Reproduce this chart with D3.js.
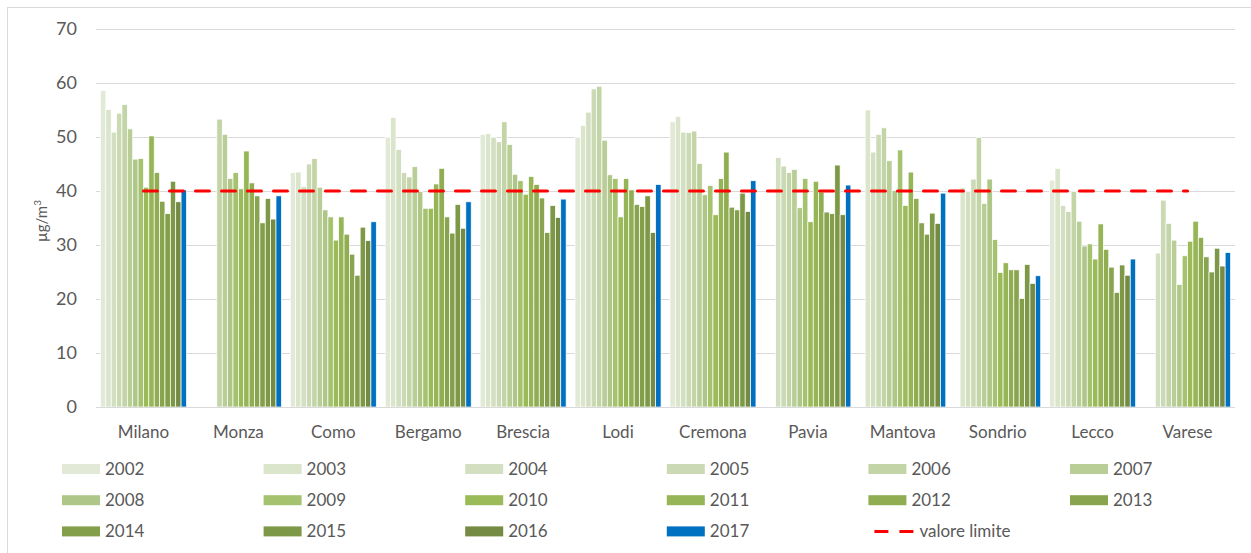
<!DOCTYPE html>
<html>
<head>
<meta charset="utf-8">
<script src="https://cdn.jsdelivr.net/npm/d3@7"></script>
<style>
  html, body { margin: 0; padding: 0; background: #fff; }
  svg { display: block; font-family: Lato, "Open Sans", sans-serif; }
</style>
</head>
<body>
<svg id="chart" width="1251" height="553"></svg>
<script>
// ---- data ----
const categories = ["Milano","Monza","Como","Bergamo","Brescia","Lodi","Cremona","Pavia","Mantova","Sondrio","Lecco","Varese"];
const years = ["2002","2003","2004","2005","2006","2007","2008","2009","2010","2011","2012","2013","2014","2015","2016","2017"];
const yTicks = [0,10,20,30,40,50,60,70];
const limitValue = 40;
const limitLabel = "valore limite";

// values per city, one per year 2002..2017 (null = no data)
const milano  = [58.6,55.1,50.9,54.4,56.0,51.5,45.9,46.0,40.7,50.2,43.4,38.1,35.8,41.8,38.0,40.2];
const monza   = [null,null,null,null,53.3,50.5,42.3,43.4,40.4,47.4,41.5,39.1,34.1,38.6,34.8,39.1];
const como    = [43.4,43.5,40.8,45.0,46.0,40.7,36.5,35.2,30.9,35.2,32.0,28.3,24.4,33.3,30.8,34.3];
const bergamo = [49.9,53.6,47.7,43.4,42.6,44.5,39.9,36.8,36.8,41.3,44.2,35.2,32.2,37.5,33.1,38.0];
const brescia = [50.5,50.6,49.9,49.1,52.8,48.6,43.1,41.9,39.4,42.7,41.2,38.7,32.3,37.3,35.1,38.5];
const lodi    = [49.9,52.1,54.6,58.9,59.4,49.4,43.0,42.3,35.2,42.3,40.2,37.5,37.1,39.1,32.3,41.2];
const cremona = [52.8,53.8,50.9,50.8,51.1,45.1,39.3,41.0,35.6,42.3,47.2,37.0,36.5,39.6,36.2,41.9];
const pavia   = [null,null,46.2,44.6,43.4,44.0,36.9,42.3,34.3,41.8,39.8,36.1,35.8,44.8,35.6,41.1];
const mantova = [null,55.0,47.2,50.5,51.7,45.6,40.1,47.6,37.3,43.5,38.6,34.1,32.0,35.9,34.0,39.6];
const sondrio = [null,40.6,39.9,42.2,49.9,37.7,42.2,31.0,24.9,26.7,25.4,25.4,20.1,26.4,22.9,24.3];
const lecco   = [42.0,44.2,37.3,36.2,39.9,34.4,29.8,30.2,27.4,33.9,29.2,25.9,21.2,26.3,24.4,27.4];
const varese  = [null,null,28.5,38.3,34.0,30.9,22.7,28.0,30.7,34.4,31.4,27.8,25.0,29.4,26.1,28.6];

const cityValues = [milano,monza,como,bergamo,brescia,lodi,cremona,pavia,mantova,sondrio,lecco,varese];

const yearColors = ["#e2e9d7","#dae5cb","#d2dfc0","#cbdab5","#c3d4a7","#b9cd97","#aec788","#a5c26f",
                    "#9bbb59","#96b556","#90ad52","#89a44e","#839f4a","#7d9846","#758b43","#0070c0"];

// ---- layout ----
const svg = d3.select("#chart");
const plot = {left: 96, right: 1235, top: 29, bottom: 407};
const textColor = "#595959";

// chart frame
svg.append("rect").attr("x", 7.5).attr("y", 7.5).attr("width", 1260).attr("height", 560)
  .attr("fill", "none").attr("stroke", "#d9d9d9").attr("stroke-width", 1);

const y = d3.scaleLinear().domain([0, 70]).range([plot.bottom, plot.top]);
const x0 = d3.scaleBand().domain(categories).range([plot.left, plot.right]).padding(0);
const x1 = d3.scaleBand().domain(years).range([0, x0.bandwidth()]).paddingInner(0).paddingOuter(0.83);

// gridlines
svg.append("g").selectAll("line").data(yTicks.filter(t => t > 0)).join("line")
  .attr("x1", plot.left).attr("x2", plot.right)
  .attr("y1", d => Math.round(y(d)) + 0.5).attr("y2", d => Math.round(y(d)) + 0.5)
  .attr("stroke", "#d9d9d9").attr("stroke-width", 1);

// y axis labels
const yAxis = d3.axisLeft(y).tickValues(yTicks).tickSize(0).tickPadding(0);
const gy = svg.append("g").attr("transform", `translate(${plot.left - 19},0)`).call(yAxis);
gy.select(".domain").remove();
gy.selectAll("text").attr("fill", textColor).style("font-size", "18px").style("font-family", "Lato, sans-serif");

// y axis title
const yt = svg.append("text").attr("transform", "translate(47,221) rotate(-90)")
  .attr("text-anchor", "middle").attr("fill", textColor).style("font-size", "15px");
yt.append("tspan").text("µg/m");
yt.append("tspan").attr("dy", -6).style("font-size", "10px").text("3");

// bars
const groups = svg.append("g").selectAll("g").data(categories).join("g")
  .attr("transform", d => `translate(${x0(d)},0)`);
groups.selectAll("rect")
  .data((c, i) => years.map((yr, j) => ({year: yr, j, value: cityValues[i][j]})).filter(d => d.value != null))
  .join("rect")
  .attr("x", d => x1(d.year))
  .attr("width", x1.bandwidth())
  .attr("y", d => y(d.value))
  .attr("height", d => y(0) - y(d.value))
  .attr("fill", d => yearColors[d.j])
  .attr("stroke", "#ffffff").attr("stroke-width", 0.7);

// baseline
svg.append("line").attr("x1", plot.left).attr("x2", plot.right)
  .attr("y1", plot.bottom + 0.5).attr("y2", plot.bottom + 0.5)
  .attr("stroke", "#d9d9d9").attr("stroke-width", 1);

// category axis
const xAxis = d3.axisBottom(x0).tickSize(0).tickPadding(0);
const gx = svg.append("g").attr("transform", `translate(0,${plot.bottom + 19})`).call(xAxis);
gx.select(".domain").remove();
gx.selectAll("text").attr("fill", textColor).style("font-size", "17px").style("font-family", "Lato, sans-serif");

// limit line
const line = d3.line().x(d => x0(d) + x0.bandwidth() / 2).y(() => y(limitValue));
svg.append("path").datum(categories).attr("d", line)
  .attr("fill", "none").attr("stroke", "#ff0000").attr("stroke-width", 3)
  .attr("stroke-dasharray", "14,12").attr("stroke-linecap", "round");

// legend
const legendItems = years.map((yr, j) => ({label: yr, color: yearColors[j], type: "bar"}))
  .concat([{label: limitLabel, color: "#ff0000", type: "line"}]);
const colStep = 201.6, rowStep = 31.2, lx = 62, ly = 469;
const lg = svg.append("g").selectAll("g").data(legendItems).join("g")
  .attr("transform", (d, i) => `translate(${lx + (i % 6) * colStep},${ly + Math.floor(i / 6) * rowStep})`);
lg.filter(d => d.type === "bar").append("rect")
  .attr("x", 0).attr("y", -5).attr("width", 38).attr("height", 10).attr("fill", d => d.color);
lg.filter(d => d.type === "line").append("line")
  .attr("x1", 6).attr("x2", 45).attr("y1", 0).attr("y2", 0)
  .attr("stroke", d => d.color).attr("stroke-width", 3).attr("stroke-dasharray", "14,11");
lg.append("text").attr("x", d => d.type === "line" ? 51 : 43).attr("y", 0).attr("dy", "0.35em")
  .attr("fill", textColor).style("font-size", "17px").text(d => d.label);
</script>
</body>
</html>
